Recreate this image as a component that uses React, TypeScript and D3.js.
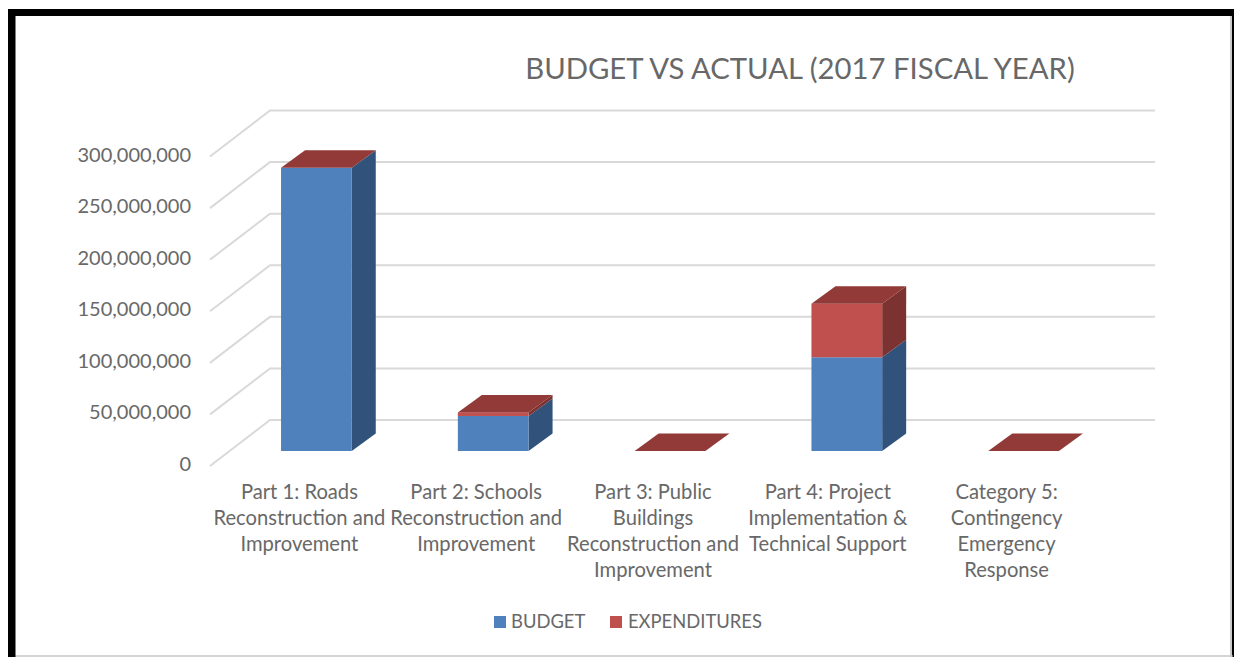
import React from "react";
import * as d3 from "d3";

const categories = ["part1", "part2", "part3", "part4", "part5"];
const categoryLines = [
  ["Part 1: Roads", "Reconstruction and", "Improvement"],
  ["Part 2: Schools", "Reconstruction and", "Improvement"],
  ["Part 3: Public", "Buildings", "Reconstruction and", "Improvement"],
  ["Part 4: Project", "Implementation &", "Technical Support"],
  ["Category 5:", "Contingency", "Emergency", "Response"],
];
const budget = [275000000, 34000000, 0, 91000000, 0];
const expenditures = [0, 3500000, 0, 52000000, 0];
const yTicks = [0, 50000000, 100000000, 150000000, 200000000, 250000000, 300000000];
const seriesNames = ["BUDGET", "EXPENDITURES"];
const titleText = "BUDGET VS ACTUAL (2017 FISCAL YEAR)";

const W = 1234;
const H = 657;
const FONT = "Lato, 'Open Sans', sans-serif";
const TEXT = "#686868";
const GRID = "#d9d9d9";
const BLUE = { front: "#4f81bd", side: "#31527b" };
const RED = { front: "#c0504d", side: "#7b3230", top: "#913a38" };

// The floor runs from the front edge of the wall to the back of the plot.
const wallDx = 60;
const wallDy = -46;
const barDx = 24;
const barDy = -17.5;
const wallLeft = 210;
const wallRight = 1155;

const y = d3.scaleLinear().domain([0, 300000000]).range([451, 142]);
const yBack = d3.scaleLinear().domain([0, 300000000]).range([420, 110.5]);
const x = d3
  .scaleBand<string>()
  .domain(categories)
  .range([228, 1112])
  .paddingInner(0.6)
  .paddingOuter(0.3);
const fmt = d3.format(",");
const poly = (pts: [number, number][]) => pts.map((p) => p.join(",")).join(" ");

function Bar({ id, i }: { id: string; i: number }) {
  const x0 = x(id) as number;
  const w = x.bandwidth();
  const b = budget[i];
  const e = expenditures[i];
  const yb = y(b);
  const yt = y(b + e);
  const box = (top: number, bottom: number, c: { front: string; side: string }) => (
    <g>
      <polygon
        points={poly([
          [x0 + w, bottom],
          [x0 + w + barDx, bottom + barDy],
          [x0 + w + barDx, top + barDy],
          [x0 + w, top],
        ])}
        fill={c.side}
      />
      <rect x={x0} y={top} width={w} height={bottom - top} fill={c.front} />
    </g>
  );
  return (
    <g>
      {b > 0 && box(yb, y(0), BLUE)}
      {e > 0 && box(yt, yb, RED)}
      <polygon
        points={poly([
          [x0, yt],
          [x0 + w, yt],
          [x0 + w + barDx, yt + barDy],
          [x0 + barDx, yt + barDy],
        ])}
        fill={RED.top}
      />
    </g>
  );
}

export default function App() {
  return (
    <svg
      width={W}
      height={H}
      viewBox={`0 0 ${W} ${H}`}
      style={{ position: "fixed", left: 0, top: 0, display: "block", background: "#fff" }}
    >
      <rect x={8} y={9} width={1226} height={660} fill="#000" />
      <rect x={15.5} y={16} width={1215} height={639} fill="#fff" />
      <rect x={15.5} y={655} width={1217} height={2} fill="#d4d4d4" />
      <rect x={1230} y={16} width={2} height={641} fill="#c8c8c8" />

      <text x={800} y={79} textAnchor="middle" fontFamily={FONT} fontSize={29.3} fill={TEXT}>
        {titleText}
      </text>

      {yTicks.map((t) => (
        <g key={t}>
          <polyline
            points={poly([
              [wallLeft, yBack(t) - wallDy],
              [wallLeft + wallDx, yBack(t)],
              [wallRight, yBack(t)],
            ])}
            fill="none"
            stroke={GRID}
            strokeWidth={2}
          />
          <text
            x={191}
            y={yBack(t) - wallDy}
            textAnchor="end"
            dominantBaseline="middle"
            fontFamily={FONT}
            fontSize={20}
            fill={TEXT}
          >
            {fmt(t)}
          </text>
        </g>
      ))}

      {categories.map((c, i) => (
        <Bar key={c} id={c} i={i} />
      ))}

      {categories.map((c, i) => (
        <text key={c} textAnchor="middle" fontFamily={FONT} fontSize={20.2} fill={TEXT}>
          {categoryLines[i].map((line, j) => (
            <tspan
              key={j}
              x={(x(c) as number) + x.bandwidth() / 2 - (i === 3 ? 19 : 17)}
              y={499 + j * 26}
            >
              {line}
            </tspan>
          ))}
        </text>
      ))}

      <rect x={494} y={616} width={12} height={12} fill={BLUE.front} />
      <text x={511} y={628} fontFamily={FONT} fontSize={18.4} fill={TEXT}>
        {seriesNames[0]}
      </text>
      <rect x={610} y={616} width={12} height={12} fill={RED.front} />
      <text x={628} y={628} fontFamily={FONT} fontSize={18.4} fill={TEXT}>
        {seriesNames[1]}
      </text>
    </svg>
  );
}
